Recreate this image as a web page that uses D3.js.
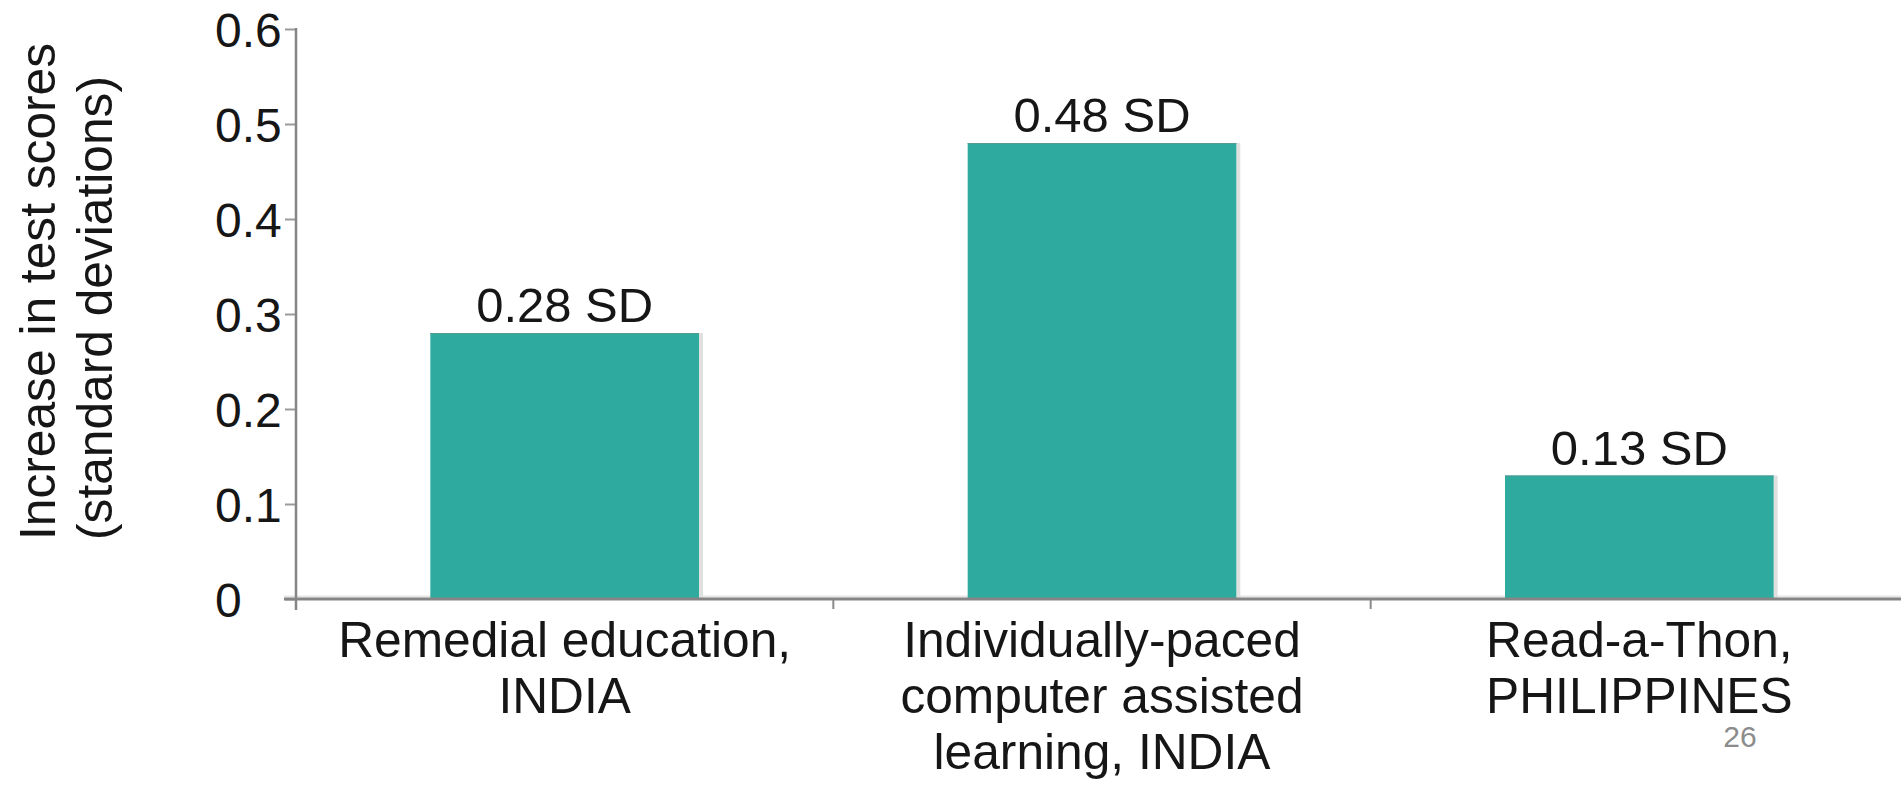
<!DOCTYPE html>
<html>
<head>
<meta charset="utf-8">
<script src="https://cdn.jsdelivr.net/npm/d3@7"></script>
<style>
  html, body { margin: 0; padding: 0; background: #ffffff; }
  svg { display: block; }
  text { font-family: "Liberation Sans", Arial, Helvetica, sans-serif; }
</style>
</head>
<body>
<svg id="chart" width="1901" height="786"></svg>
<script>
// Programme effects on test scores
const categories = [
  "Remedial education, INDIA",
  "Individually-paced computer assisted learning, INDIA",
  "Read-a-Thon, PHILIPPINES"
];
const categoryLines = [
  ["Remedial education,", "INDIA"],
  ["Individually-paced", "computer assisted", "learning, INDIA"],
  ["Read-a-Thon,", "PHILIPPINES"]
];
const effects = [0.28, 0.48, 0.13];
const yTicks = [0, 0.1, 0.2, 0.3, 0.4, 0.5, 0.6];
const yTickLabels = ["0", "0.1", "0.2", "0.3", "0.4", "0.5", "0.6"];
const yTitleLines = ["Increase in test scores", "(standard deviations)"];
const slideNumber = "26";

const svg = d3.select("#chart");
const tickFont = 48, valueFont = 49, labelFont = 49.7;
const baseY = 599, topY = 29, axisX = 296;
const ink = "#161616";

const y = d3.scaleLinear().domain([0, 0.6]).range([baseY, topY]);
const x = d3.scaleBand().domain(categories).range([axisX, 1908])
  .paddingInner(0.5).paddingOuter(0.25);
const step = x.step();

// light rule just above the category axis
svg.append("line")
  .attr("x1", 284).attr("x2", 1901)
  .attr("y1", baseY - 2.5).attr("y2", baseY - 2.5)
  .attr("stroke", "#e6e6e6").attr("stroke-width", 2);

// bars
const bars = svg.append("g").selectAll("g").data(categories).join("g");
bars.append("rect")
  .attr("x", d => x(d) + x.bandwidth())
  .attr("y", (d, i) => y(effects[i]))
  .attr("width", 4)
  .attr("height", (d, i) => baseY - y(effects[i]))
  .attr("fill", "#e0e0e0");
bars.append("rect")
  .attr("x", d => x(d))
  .attr("y", (d, i) => y(effects[i]))
  .attr("width", x.bandwidth())
  .attr("height", (d, i) => baseY - y(effects[i]))
  .attr("fill", "#2eaa9e");
bars.append("line")
  .attr("x1", d => x(d)).attr("x2", d => x(d) + x.bandwidth())
  .attr("y1", (d, i) => y(effects[i]) + 0.5)
  .attr("y2", (d, i) => y(effects[i]) + 0.5)
  .attr("stroke", "#559a93").attr("stroke-width", 1.2);

// value labels
bars.append("text")
  .attr("x", d => x(d) + x.bandwidth() / 2)
  .attr("y", (d, i) => y(effects[i]) - 11)
  .attr("text-anchor", "middle")
  .attr("font-size", valueFont)
  .attr("fill", ink)
  .text((d, i) => effects[i].toFixed(2) + " SD");

// y axis
const yAxis = d3.axisLeft(y)
  .tickValues(yTicks)
  .tickFormat((d, i) => yTickLabels[i])
  .tickSize(11)
  .tickPadding(0);
const gy = svg.append("g").attr("transform", `translate(${axisX},0)`).call(yAxis);
gy.select(".domain").remove();
gy.selectAll(".tick line").attr("stroke", "#9a9a9a").attr("stroke-width", 2);
gy.selectAll(".tick text")
  .attr("x", 215 - axisX)
  .attr("dy", null)
  .attr("y", tickFont * 0.358)
  .attr("text-anchor", "start")
  .attr("font-size", tickFont)
  .attr("font-family", "Liberation Sans, Arial, sans-serif")
  .attr("fill", ink);
svg.append("line")
  .attr("x1", axisX).attr("x2", axisX)
  .attr("y1", topY - 1).attr("y2", 610)
  .attr("stroke", "#858585").attr("stroke-width", 2.5);

// x axis
svg.append("line")
  .attr("x1", 284).attr("x2", 1901)
  .attr("y1", baseY).attr("y2", baseY)
  .attr("stroke", "#858585").attr("stroke-width", 3);
const boundaries = d3.range(1, categories.length).map(k => axisX + k * step);
svg.append("g").selectAll("line").data(boundaries).join("line")
  .attr("x1", d => d).attr("x2", d => d)
  .attr("y1", baseY).attr("y2", 609)
  .attr("stroke", "#8a8a8a").attr("stroke-width", 2);

// category labels
const lineGap = 56;
svg.append("g").selectAll("text").data(categories).join("text")
  .attr("text-anchor", "middle")
  .attr("font-size", labelFont)
  .attr("fill", ink)
  .each(function (d, i) {
    d3.select(this).selectAll("tspan").data(categoryLines[i]).join("tspan")
      .attr("x", x(d) + x.bandwidth() / 2)
      .attr("y", (t, j) => 657 + j * lineGap)
      .text(t => t);
  });

// y-axis title
svg.append("g").selectAll("text").data(yTitleLines).join("text")
  .attr("transform", (d, i) => `translate(${55 + i * 57},540) rotate(-90)`)
  .attr("text-anchor", "start")
  .attr("font-size", labelFont)
  .attr("fill", ink)
  .text(d => d);

// slide number
svg.append("text")
  .attr("x", 1740).attr("y", 747)
  .attr("text-anchor", "middle")
  .attr("font-family", "Lato, sans-serif")
  .attr("font-weight", 300)
  .attr("font-size", 30)
  .attr("fill", "#8c8c8c")
  .text(slideNumber);
</script>
</body>
</html>
